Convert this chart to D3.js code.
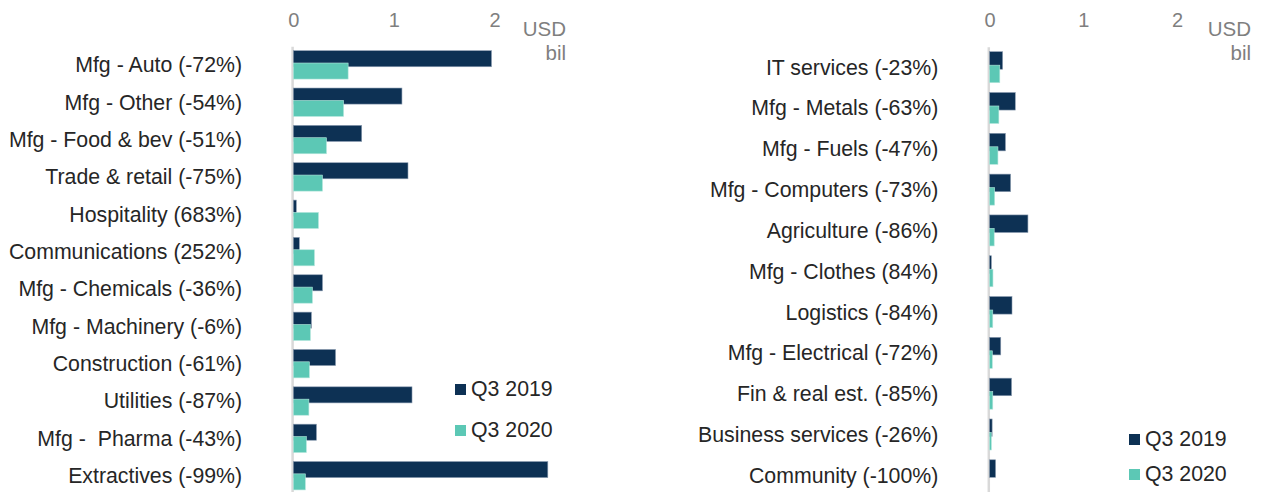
<!DOCTYPE html>
<html>
<head>
<meta charset="utf-8">
<script src="https://cdn.jsdelivr.net/npm/d3@7"></script>
<style>
  body { margin: 0; background: #fff; }
  svg { display: block; font-family: "Liberation Sans", Arial, sans-serif; }
  text { white-space: pre; }
</style>
</head>
<body>
<div id="chart"></div>
<script>
// left panel
const leftCats = ["Mfg - Auto (-72%)", "Mfg - Other (-54%)", "Mfg - Food & bev (-51%)", "Trade & retail (-75%)",
  "Hospitality (683%)", "Communications (252%)", "Mfg - Chemicals (-36%)", "Mfg - Machinery (-6%)",
  "Construction (-61%)", "Utilities (-87%)", "Mfg -  Pharma (-43%)", "Extractives (-99%)"]
const leftQ3_2019 = [1.97, 1.08, 0.68, 1.14, 0.03, 0.06, 0.29, 0.18, 0.42, 1.18, 0.23, 2.53]
const leftQ3_2020 = [0.545, 0.5, 0.33, 0.29, 0.25, 0.21, 0.19, 0.17, 0.16, 0.155, 0.13, 0.12]

// right panel
const rightCats = ["IT services (-23%)", "Mfg - Metals (-63%)", "Mfg - Fuels (-47%)", "Mfg - Computers (-73%)",
  "Agriculture (-86%)", "Mfg - Clothes (84%)", "Logistics (-84%)", "Mfg - Electrical (-72%)",
  "Fin & real est. (-85%)", "Business services (-26%)", "Community (-100%)"]
const rightQ3_2019 = [0.14, 0.275, 0.17, 0.225, 0.41, 0.02, 0.24, 0.12, 0.235, 0.028, 0.065]
const rightQ3_2020 = [0.11, 0.10, 0.09, 0.055, 0.05, 0.037, 0.035, 0.03, 0.035, 0.02, 0]

const xTicks = [0, 1, 2]
const seriesNames = ["Q3 2019", "Q3 2020"]
const colors = ["#0d3154", "#5cc8b5"]

const W = 1263, H = 492

const svg = d3.select("#chart").append("svg")
  .attr("width", W)
  .attr("height", H)

function drawPanel(cats, s1, s2, opt) {
  const g = svg.append("g")

  const x = d3.scaleLinear().domain([0, 2]).range([opt.x0, opt.x2])
  const y = d3.scaleBand().domain(cats).range([opt.y0, opt.y1]).padding(0)
  const step = y.step()
  const barH = step * 0.43

  // value ticks on top
  const xAxis = g.append("g")
    .attr("transform", "translate(0,27)")
    .call(d3.axisTop(x).tickValues(xTicks).tickSize(0).tickPadding(0).tickFormat(d3.format("d")))
  xAxis.select(".domain").remove()
  xAxis.selectAll("text")
    .attr("dy", 0)
    .style("font-size", "20px")
    .style("fill", "#7f7f7f")
    .style("font-family", "Liberation Sans, Arial, sans-serif")

  // units
  g.append("text").attr("x", opt.unitX).attr("y", 36).attr("text-anchor", "end")
    .style("font-size", "20.5px").style("fill", "#7f7f7f").text("USD")
  g.append("text").attr("x", opt.unitX).attr("y", 60).attr("text-anchor", "end")
    .style("font-size", "20.5px").style("fill", "#7f7f7f").text("bil")

  // category axis (drawn under the bars)
  const yAxis = g.append("g")
    .attr("transform", `translate(${x(0) - 1.2},0)`)
    .call(d3.axisLeft(y).tickSize(0).tickPadding(50))
  yAxis.select(".domain").attr("stroke", "#d9d9d9").attr("stroke-width", 2.5)
  yAxis.selectAll("text")
    .attr("dy", "0.35em")
    .style("font-size", "21.3px")
    .style("fill", "#262626")
    .style("font-family", "Liberation Sans, Arial, sans-serif")

  const rows = cats.map((c, i) => ({ c, a: s1[i], b: s2[i] }))

  g.selectAll(".bar19").data(rows).enter().append("rect")
    .attr("class", "bar19")
    .attr("x", x(0))
    .attr("y", d => y(d.c) + step / 2 - step * 0.38)
    .attr("width", d => x(d.a) - x(0))
    .attr("height", barH)
    .attr("fill", colors[0])
    .attr("stroke", "#8a9bb0").attr("stroke-width", 0.6)

  g.selectAll(".bar20").data(rows).enter().append("rect")
    .attr("class", "bar20")
    .attr("x", x(0))
    .attr("y", d => y(d.c) + step / 2 - step * 0.05)
    .attr("width", d => x(d.b) - x(0))
    .attr("height", barH)
    .attr("fill", colors[1])
    .attr("stroke", "#b5e6dc").attr("stroke-width", d => d.b > 0 ? 0.6 : 0)

  // legend
  const leg = g.append("g").selectAll("g").data(seriesNames).enter().append("g")
    .attr("transform", (d, i) => `translate(${opt.legX},${opt.legY + i * opt.legStep})`)
  leg.append("rect").attr("x", 0).attr("y", -12).attr("width", 11).attr("height", 11)
    .attr("fill", (d, i) => colors[i])
  leg.append("text").attr("x", 16).attr("y", 0)
    .style("font-size", "21.3px").style("fill", "#262626").text(d => d)
}

drawPanel(leftCats, leftQ3_2019, leftQ3_2020,
  { x0: 293.3, x2: 494.5, y0: 46.2, y1: 494.4, unitX: 566, legX: 455, legY: 396, legStep: 41 })
drawPanel(rightCats, rightQ3_2019, rightQ3_2020,
  { x0: 989.5, x2: 1177, y0: 46.8, y1: 495.7, unitX: 1251, legX: 1129, legY: 446, legStep: 35 })
</script>
</body>
</html>
